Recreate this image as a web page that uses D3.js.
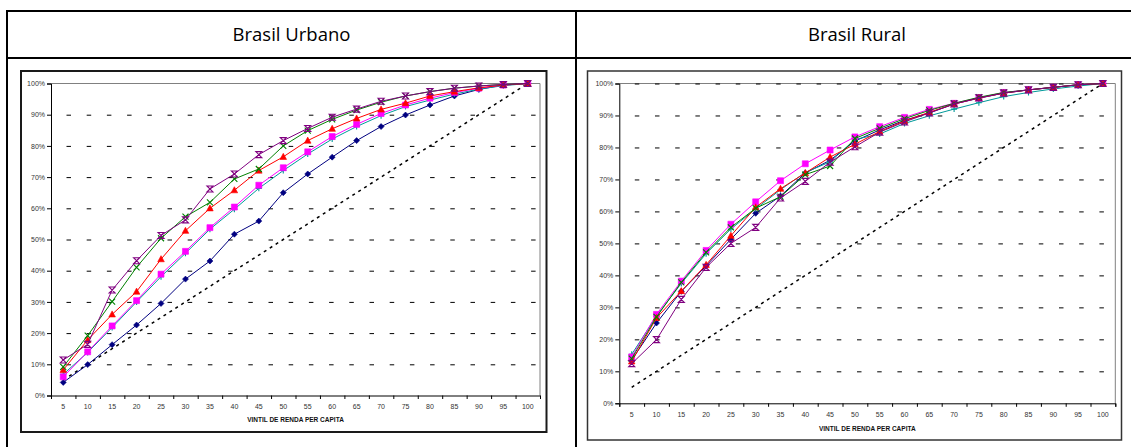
<!DOCTYPE html>
<html><head><meta charset="utf-8">
<script src="https://cdn.jsdelivr.net/npm/d3@7"></script>
<style>body{margin:0;background:#fff}svg{display:block}</style>
</head><body>
<svg id="c" width="1131" height="447"></svg>
<script>
// ---------- data ----------
const vintis = ["5","10","15","20","25","30","35","40","45","50","55","60","65","70","75","80","85","90","95","100"];
const yTicks = [0,10,20,30,40,50,60,70,80,90,100];
const gridTicks = [10,20,30,40,50,60,70,80,90];
const titles = ["Brasil Urbano","Brasil Rural"];
const axisTitle = "VINTIL DE RENDA PER CAPITA";
const igualdade = [5,10,15,20,25,30,35,40,45,50,55,60,65,70,75,80,85,90,95,100];

const urbanoNavy    = [4.2,9.9,16.3,22.6,29.5,37.3,43.1,51.7,55.9,65.0,71.0,76.4,81.7,86.2,89.9,93.1,96.0,98.1,99.5,100];
const urbanoTeal    = [6.8,13.8,21.8,30.0,38.1,45.6,53.3,59.7,66.4,72.1,77.4,82.2,86.2,89.7,92.6,94.7,96.6,98.2,99.3,100];
const urbanoMagenta = [6.0,14.0,22.3,30.4,38.9,46.2,53.8,60.4,67.4,73.0,78.1,83.0,86.9,90.4,93.1,95.3,97.1,98.5,99.5,100];
const urbanoRed     = [8.2,17.8,26.0,33.3,43.7,52.8,60.0,65.8,72.1,76.5,81.7,85.5,88.8,91.7,93.7,96.0,97.4,98.6,99.5,100];
const urbanoGreen   = [9.2,19.2,30.1,41.1,50.4,57.3,61.9,69.4,72.6,80.0,84.9,88.5,91.5,94.0,96.0,97.4,98.5,99.2,99.7,100];
const urbanoPurple  = [11.4,16.4,33.8,43.2,51.3,56.3,66.2,71.0,77.2,81.7,85.6,89.2,91.8,94.3,96.0,97.4,98.5,99.2,99.7,100];

const ruralNavy    = [13.5,25.1,35.0,43.0,51.3,59.4,64.8,72.0,76.0,82.0,85.5,88.5,90.8,93.6,95.4,97.0,98.0,98.8,99.6,100];
const ruralTeal    = [15.3,27.3,37.5,46.8,54.5,60.8,66.8,72.2,75.5,82.5,84.2,87.5,89.9,92.0,94.0,95.9,97.2,98.3,99.2,100];
const ruralMagenta = [14.5,27.8,38.2,47.8,56.0,63.0,69.6,74.9,79.2,83.3,86.5,89.4,91.9,93.8,95.5,97.2,98.0,98.8,99.6,100];
const ruralRed     = [13.1,26.7,35.1,43.3,52.4,61.3,67.1,72.0,77.0,81.0,85.0,88.3,91.0,93.6,95.5,97.0,98.0,98.8,99.6,100];
const ruralGreen   = [14.0,27.0,37.8,47.2,55.0,61.0,64.6,71.5,74.2,82.8,86.0,89.0,91.6,93.8,95.7,97.2,98.0,98.8,99.6,100];
const ruralPurple  = [12.4,19.9,32.5,42.5,50.0,55.0,64.2,69.4,75.4,80.2,84.8,88.0,90.8,93.6,95.5,97.0,98.0,98.8,99.6,100];

// ---------- styles ----------
const seriesStyle = [
  {color:"#000080", marker:"diamond"},
  {color:"#009999", marker:"plus"},
  {color:"#FF00FF", marker:"square"},
  {color:"#FF0000", marker:"triangle"},
  {color:"#008000", marker:"times"},
  {color:"#800080", marker:"hourglass"}
];
const urbanoSeries = [urbanoNavy, urbanoTeal, urbanoMagenta, urbanoRed, urbanoGreen, urbanoPurple];
const ruralSeries  = [ruralNavy, ruralTeal, ruralMagenta, ruralRed, ruralGreen, ruralPurple];

const markerPath = {
  diamond:   "M0,-3L3,0L0,3L-3,0Z",
  square:    "M-3,-3H3V3H-3Z",
  triangle:  "M0,-3.5L3.3,2.6H-3.3Z",
  plus:      "M-3,0H3M0,-3V3",
  times:     "M-3,-3L3,3M3,-3L-3,3",
  hourglass: "M-3,-3H3L-3,3H3Z"
};
const filled = {diamond:true, square:true, triangle:true};

const svg = d3.select("#c");
const FONT = "'Liberation Sans', Arial, sans-serif";

// ---------- outer table ----------
const table = svg.append("g").attr("fill","none").attr("stroke","#000").attr("stroke-width",2);
table.append("line").attr("x1",7).attr("x2",1131).attr("y1",11).attr("y2",11);
table.append("line").attr("x1",7).attr("x2",1131).attr("y1",58).attr("y2",58);
table.append("line").attr("x1",7).attr("x2",7).attr("y1",10).attr("y2",447);
table.append("line").attr("x1",576).attr("x2",576).attr("y1",10).attr("y2",447);

const titleCenters = [291.5, 857];
titles.forEach((t,i)=>{
  svg.append("text").attr("x",titleCenters[i]).attr("y",40.5)
    .attr("text-anchor","middle").attr("font-family","'Open Sans', 'Noto Sans', sans-serif")
    .attr("font-size",18.5).attr("fill","#000").text(t);
});

// ---------- chart ----------
function drawChart(cfg, seriesList){
  const g = svg.append("g");
  g.append("rect").attr("x",cfg.bx0).attr("y",cfg.by0)
    .attr("width",cfg.bx1-cfg.bx0).attr("height",cfg.by1-cfg.by0)
    .attr("fill","#fff").attr("stroke",cfg.frameColor).attr("stroke-width",cfg.frameWidth);

  const x = d3.scaleBand().domain(vintis).range([cfg.x0,cfg.x1]);
  const xEdge = d3.scaleLinear().domain([0,vintis.length]).range([cfg.x0,cfg.x1]);
  const y = d3.scaleLinear().domain([0,100]).range([cfg.y0,cfg.y1]);

  g.append("path").attr("d",`M${cfg.x0},${cfg.y1}H${cfg.x1}V${cfg.y0}`)
    .attr("fill","none").attr("stroke","#808080").attr("stroke-width",1);

  const grid = g.append("g").attr("transform",`translate(${cfg.x0},0)`)
    .call(d3.axisLeft(y).tickValues(cfg.grid).tickSize(-(cfg.x1-cfg.x0)).tickFormat(""));
  grid.select(".domain").remove();
  grid.selectAll("line").attr("stroke","#000").attr("stroke-width",1)
    .attr("stroke-dasharray","4.5,15.7").attr("stroke-dashoffset",-15.5);

  const ya = g.append("g").attr("transform",`translate(${cfg.x0},0)`)
    .call(d3.axisLeft(y).tickValues(yTicks).tickSize(4).tickPadding(2).tickFormat(d=>d+"%"));
  ya.select(".domain").attr("stroke","#000");
  ya.selectAll("line").attr("stroke","#000");
  ya.selectAll("text").attr("font-family",FONT).attr("font-size",7).attr("fill","#333");

  const xa = g.append("g").attr("transform",`translate(0,${cfg.y0})`)
    .call(d3.axisBottom(x).tickSize(0).tickPadding(cfg.xPad));
  xa.select(".domain").remove();
  xa.selectAll("text").attr("font-family",FONT).attr("font-size",7).attr("fill","#333");
  const xt = g.append("g").attr("transform",`translate(0,${cfg.y0})`)
    .call(d3.axisBottom(xEdge).ticks(vintis.length).tickSize(3.5).tickFormat(""));
  xt.select(".domain").attr("stroke","#000");
  xt.selectAll("line").attr("stroke","#000");

  g.append("text").attr("x",(cfg.x0+cfg.x1)/2).attr("y",cfg.titleY)
    .attr("text-anchor","middle").attr("font-family",FONT).attr("font-size",6.5)
    .attr("font-weight","bold").attr("fill","#111").text(axisTitle);

  const cx = (d,i)=>x(vintis[i])+x.bandwidth()/2;
  const line = d3.line().x(cx).y(d=>y(d));

  g.append("path").datum(igualdade).attr("d",line).attr("fill","none")
    .attr("stroke","#000").attr("stroke-width",1.5).attr("stroke-dasharray","3,4");

  seriesList.forEach((vals,k)=>{
    const st = seriesStyle[k];
    g.append("path").datum(vals).attr("d",line).attr("fill","none")
      .attr("stroke",st.color).attr("stroke-width",1);
    g.append("g").selectAll("path").data(vals).join("path")
      .attr("transform",(d,i)=>`translate(${cx(d,i)},${y(d)})`)
      .attr("d",markerPath[st.marker])
      .attr("fill",filled[st.marker]?st.color:"none")
      .attr("stroke",st.color).attr("stroke-width",filled[st.marker]?0.6:1.1);
  });
}

drawChart({bx0:21,bx1:546.5,by0:71,by1:432,frameColor:"#1a1a1a",frameWidth:2,
  x0:51,x1:540,y0:395.5,y1:83.5,grid:gridTicks,xPad:9,titleY:421.5}, urbanoSeries);
drawChart({bx0:587.5,bx1:1121.5,by0:71,by1:440,frameColor:"#333",frameWidth:1.5,
  x0:619.3,x1:1115.3,y0:403.3,y1:83.5,grid:gridTicks.concat([100]),xPad:9,titleY:430.5}, ruralSeries);
</script>
</body></html>
